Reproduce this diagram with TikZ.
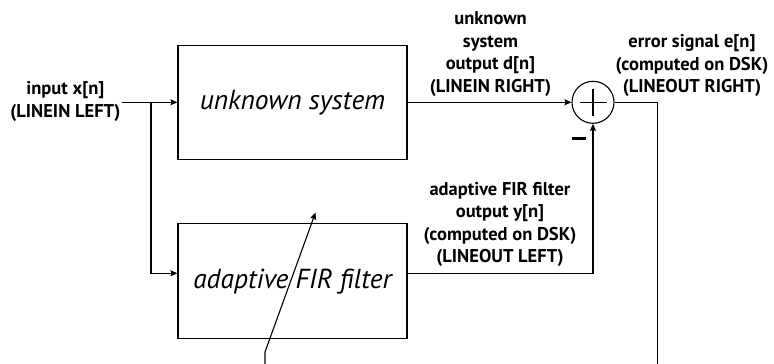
\documentclass[tikz,border=0pt]{standalone}
\usepackage{fontspec}
\setmainfont{PT Sans}
\usetikzlibrary{arrows.meta,calc}
\begin{document}
\begin{tikzpicture}[x=1pt,y=-1pt,
  line width=1.1pt,
  arr/.style={-{Stealth[length=7pt,width=6pt,inset=1pt]}},
  blk/.style={draw, minimum width=229pt, minimum height=114pt, inner sep=0pt, font=\itshape\fontsize{27.5}{30}\selectfont},
  lbl/.style={align=center, font=\bfseries\fontsize{18.5}{22.6}\selectfont, inner sep=0pt}
]
\useasboundingbox (0,0) rectangle (774,364);
\node[blk] (sys) at (292.5,102.3) {unknown system};
\node[blk, minimum height=115pt] (fir) at (292.5,281.3) {adaptive FIR filter};
\node[draw, circle, minimum size=42pt, inner sep=0pt] (sum) at (593,102.3) {};
\draw ($(sum.center)+(-13.5,0)$) -- ($(sum.center)+(13.5,0)$);
\draw ($(sum.center)+(0,-13.5)$) -- ($(sum.center)+(0,13.5)$);
\node[inner sep=0pt] (minus) at (579,138) {\rule{14pt}{3pt}};

\node[lbl, anchor=east] (inlbl) at (121,101.5) {input x[n]\\(LINEIN LEFT)};
\node[lbl] (dlbl) at (490.5,54) {unknown\\system\\output d[n]\\(LINEIN RIGHT)};
\node[lbl] (elbl) at (692,65.5) {error signal e[n]\\(computed on DSK)\\(LINEOUT RIGHT)};
\node[lbl] (ylbl) at (500,224.5) {adaptive FIR filter\\output y[n]\\(computed on DSK)\\(LINEOUT LEFT)};

\coordinate (src) at (122,102.3);
\coordinate (br) at (151,102.3);
\draw[arr] (src) -- (sys.west);
\draw[arr] (br) |- ([yshift=8pt]fir.west);
\draw[arr] (sys.east) -- (sum.west);
\draw[arr] ([yshift=8pt]fir.east) -| (sum.south);
\coordinate (fb) at (657.5,364);
\draw (sum.east) -| (fb);
\coordinate (a0) at (265,364);
\coordinate (a1) at (265,352);
\coordinate (a2) at (315.5,212.5);
\draw[arr] (a0) -- (a1) -- (a2);
\end{tikzpicture}
\end{document}
